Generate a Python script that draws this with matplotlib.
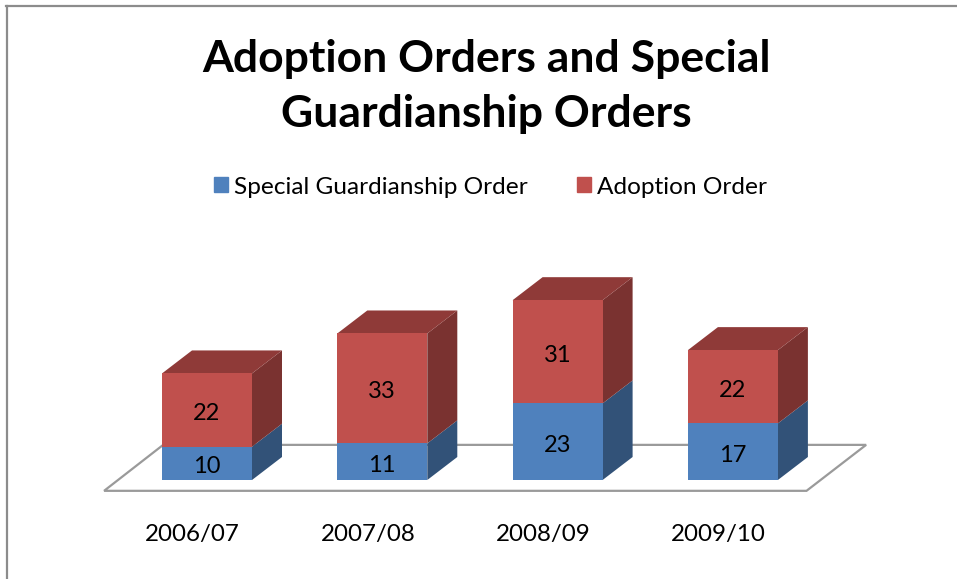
import matplotlib
matplotlib.use("Agg")
import matplotlib.pyplot as plt
from matplotlib.lines import Line2D
from matplotlib.patches import Patch, Polygon

categories = ["2006/07", "2007/08", "2008/09", "2009/10"]
special_guardianship = [10, 11, 23, 17]
adoption = [22, 33, 31, 22]

plt.rcParams["font.family"] = ["Lato", "DejaVu Sans"]

W, H = 957, 579
fig = plt.figure(figsize=(W / 100, H / 100), dpi=100, facecolor="white")

# axes placed in pixels, then everything inside is in data units
left, right, top, bottom = 100, 870, 270, 495
ax = fig.add_axes([left / W, 1 - bottom / H, (right - left) / W, (bottom - top) / H])
x_unit = 175.3
y_unit = 3.33
ax.set_xlim((left - 207) / x_unit, (right - 207) / x_unit)
ax.set_ylim((480 - bottom) / y_unit, (480 - top) / y_unit)
ax.patch.set_visible(False)
for s in ax.spines.values():
    s.set_visible(False)
ax.set_yticks([])

bar_w = 90 / x_unit
dx = 30 / x_unit
dy = 23 / y_unit

blue, blue_side = "#4F81BD", "#325278"
red, red_side, red_top = "#C0504D", "#7A3230", "#8F3A38"

# floor
floor = [(-0.587, -3.25), (3.42, -3.25), (3.76, 10.55), (-0.25, 10.55)]
ax.add_patch(Polygon(floor, closed=True, fc="white", ec="#9A9A9A", lw=1.6, zorder=1))

xs = list(range(len(categories)))
ax.bar(xs, special_guardianship, bar_w, color=blue, zorder=3)
ax.bar(xs, adoption, bar_w, bottom=special_guardianship, color=red, zorder=3)


def bar_label(x, y, value):
    ax.annotate(str(value), (x, y), xytext=(-0.2, -2.5), textcoords="offset points", ha="center", va="center",
                fontsize=17, color="black", zorder=4)


for x, a, b in zip(xs, special_guardianship, adoption):
    r = x + bar_w / 2
    l = x - bar_w / 2
    t = a + b
    ax.add_patch(Polygon([(r, 0), (r + dx, dy), (r + dx, a + dy), (r, a)], fc=blue_side, ec="none", zorder=2))
    ax.add_patch(Polygon([(r, a), (r + dx, a + dy), (r + dx, t + dy), (r, t)], fc=red_side, ec="none", zorder=2))
    ax.add_patch(Polygon([(l, t), (r, t), (r + dx, t + dy), (l + dx, t + dy)], fc=red_top, ec="none", zorder=2))
    bar_label(x, a / 2, a)
    bar_label(x, a + b / 2, b)

# the labels sit a little left of the bars in the original
ax.set_xticks([x - 14.5 / x_unit for x in xs])
ax.set_xticklabels(categories, fontsize=17.4, color="black")
ax.tick_params(axis="x", length=0, pad=21)

fig.text(486 / W, 1 - 86.5 / H, "Adoption Orders and Special\nGuardianship Orders", ha="center", va="center",
         fontsize=32, fontweight="bold", color="black", linespacing=1.48)

handles = [Patch(color=blue, label="Special Guardianship Order"), Patch(color=red, label="Adoption Order")]
fig.legend(handles=handles, loc="center", bbox_to_anchor=(490.5 / W, 1 - 187 / H), ncol=2, frameon=False,
           fontsize=17.6, handlelength=0.58, handleheight=0.58, handletextpad=0.25, columnspacing=2.0)

# grey frame along top and left
fig.add_artist(Line2D([6.5 / W, 6.5 / W], [0, 1 - 6 / H], color="#8C8C8C", lw=1.6))
fig.add_artist(Line2D([6 / W, 1], [1 - 6 / H, 1 - 6 / H], color="#8C8C8C", lw=1.6))

fig.savefig("out.png", dpi=100)
